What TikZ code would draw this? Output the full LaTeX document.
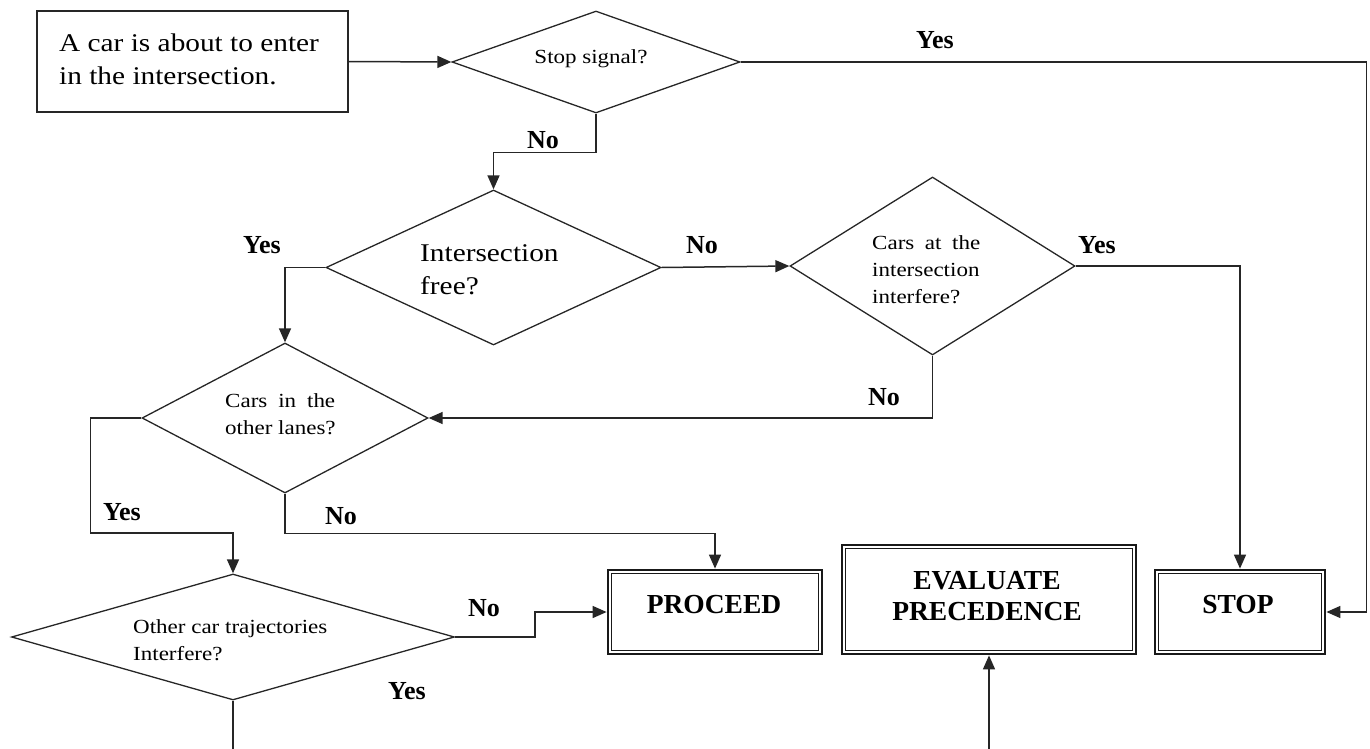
\documentclass[tikz,border=0pt]{standalone}
\usepackage{fontspec}
\setmainfont{Liberation Serif}
\newfontfamily\wide{Liberation Serif}[FakeStretch=1.15]
\usetikzlibrary{shapes.geometric,arrows.meta,calc}
\begin{document}
\begin{tikzpicture}[x=1pt,y=-1pt,
  dia/.style={draw=black!85, diamond, line width=1.3pt, inner sep=0pt},
  conn/.style={draw=black!85, line width=1.5pt},
  arr/.style={conn, -{Triangle[length=14pt,width=12pt]}},
  lbl/.style={font=\bfseries\fontsize{26}{30}\selectfont, inner sep=0pt},
  dtxt/.style={font=\wide\fontsize{20}{27}\selectfont, align=left, inner sep=0pt},
  dbox/.style={draw=black!90, line width=2.8pt, inner sep=0pt},
  btxt/.style={font=\bfseries\fontsize{27.5}{31}\selectfont, inner sep=0pt},
]
\useasboundingbox (0,0) rectangle (1370,749);

% start box
\node[draw=black!85, line width=1.4pt, minimum width=311, minimum height=101, inner sep=0pt] (start) at (192.5,61.5) {};
\node[font=\wide\fontsize{25.5}{33}\selectfont, align=left, inner sep=0pt, anchor=west] (startt) at (59,59) {A car is about to enter\\in the intersection.};

% diamonds
\node[dia, minimum width=288, minimum height=102] (d1) at (596,62) {};
\node[dia, minimum width=335, minimum height=155] (d2) at (493.5,267.5) {};
\node[dia, minimum width=285, minimum height=178] (d3) at (932.5,266) {};
\node[dia, minimum width=286, minimum height=150] (d4) at (285,418) {};
\node[dia, minimum width=443, minimum height=126] (d5) at (233,637) {};

\node[dtxt] (t1) at (591,59) {Stop signal?};
\node[dtxt, font=\wide\fontsize{25.5}{33}\selectfont, anchor=west] (t2) at (420,270) {Intersection\\free?};
\node[dtxt, anchor=west] (t3) at (872,270) {\makebox[108pt][s]{Cars at the}\\intersection\\interfere?};
\node[dtxt, anchor=west] (t4) at (225,414) {\makebox[110pt][s]{Cars in the}\\other lanes?};
\node[dtxt, anchor=west] (t5) at (133,640) {Other car trajectories\\Interfere?};

% result boxes
\node[dbox, minimum width=214, minimum height=84] (proceed) at (715,612) {};
\node[dbox, minimum width=294, minimum height=109] (evalp) at (989,599.5) {};
\node[dbox, minimum width=170, minimum height=84] (stop) at (1240,612) {};
\foreach \n in {proceed,evalp,stop}
  \draw[line width=1.3pt, black!90] ([xshift=5pt,yshift=-5pt]\n.north west) rectangle ([xshift=-5pt,yshift=5pt]\n.south east);
\node[btxt] (proceedt) at (714,605) {PROCEED};
\node[btxt, align=center] (evalt) at (987,596) {EVALUATE\\PRECEDENCE};
\node[btxt] (stopt) at (1238,605) {STOP};

% connectors
\draw[arr] (start.east) -- (d1.west);
\draw[arr] (d1.east) -| ($(stop.east)+(40,0)$) -- (stop.east);
\draw[arr] (d1.south) -- ++(0,39) -| (d2.north);
\draw[arr] (d2.west) -| (d4.north);
\draw[arr] (d2.east) -- (d3.west);
\draw[arr] (d3.east) -| (stop.north);
\draw[arr] (d3.south) |- (d4.east);
\draw[arr] (d4.west) -| ++(-51,115) -| (d5.north);
\draw[arr] (d4.south) -- ++(0,40) -| (proceed.north);
\draw[arr] (d5.east) -- ++(80,0) |- (proceed.west);
\coordinate (d5end) at (233,749);
\draw[conn] (d5.south) -- (d5end);
\coordinate (evalin) at (989,749);
\draw[arr] (evalin) -- (evalp.south);

% labels
\node[lbl] (l1) at (935,40) {Yes};
\node[lbl] (l2) at (543,140) {No};
\node[lbl] (l3) at (262,245) {Yes};
\node[lbl] (l4) at (702,245) {No};
\node[lbl] (l5) at (1097,245) {Yes};
\node[lbl] (l6) at (884,397) {No};
\node[lbl] (l7) at (122,512) {Yes};
\node[lbl] (l8) at (341,516) {No};
\node[lbl] (l9) at (484,608) {No};
\node[lbl] (l10) at (407,691) {Yes};
\end{tikzpicture}
\end{document}
